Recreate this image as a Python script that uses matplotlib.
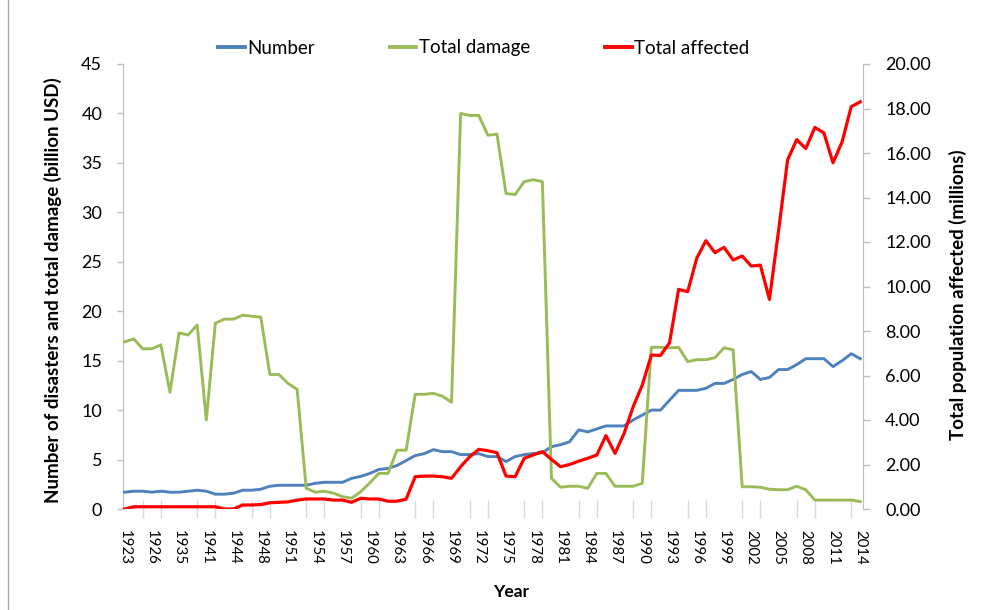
import matplotlib
matplotlib.use("Agg")
import matplotlib.pyplot as plt
from matplotlib.lines import Line2D

plt.rcParams['font.family'] = ['Lato', 'DejaVu Sans']

# categories (years with records)
years = [1923, 1924, 1925, 1926, 1931, 1933, 1935, 1937, 1939, 1941, 1942, 1943,
         1944, 1945, 1946, 1948, 1949, 1950, 1951, 1952, 1953, 1954, 1955, 1956,
         1957, 1958, 1959, 1960, 1961, 1962, 1963, 1964, 1965, 1966, 1967, 1968,
         1969, 1970, 1971, 1972, 1973, 1974, 1975, 1976, 1977, 1978, 1979, 1980,
         1981, 1982, 1983, 1984, 1985, 1986, 1987, 1988, 1989, 1990, 1991, 1992,
         1993, 1994, 1995, 1996, 1997, 1998, 1999, 2000, 2001, 2002, 2003, 2004,
         2005, 2006, 2007, 2008, 2009, 2010, 2011, 2012, 2013, 2014]

# number of disasters (left axis)
number = [1.7, 1.8, 1.8, 1.7, 1.8, 1.7, 1.7, 1.8, 1.9, 1.8, 1.5, 1.5,
          1.6, 1.9, 1.9, 2.0, 2.3, 2.4, 2.4, 2.4, 2.4, 2.6, 2.7, 2.7,
          2.7, 3.1, 3.3, 3.6, 4.0, 4.1, 4.4, 4.9, 5.4, 5.6, 6.0, 5.8,
          5.8, 5.5, 5.5, 5.6, 5.3, 5.3, 4.8, 5.3, 5.5, 5.6, 5.7, 6.3,
          6.5, 6.8, 8.0, 7.8, 8.1, 8.4, 8.4, 8.4, 9.0, 9.5, 10.0, 10.0,
          11.0, 12.0, 12.0, 12.0, 12.2, 12.7, 12.7, 13.1, 13.6, 13.9, 13.1, 13.3,
          14.1, 14.1, 14.6, 15.2, 15.2, 15.2, 14.4, 15.0, 15.7, 15.2]

# total damage, billion USD (left axis)
damage = [16.9, 17.2, 16.2, 16.2, 16.6, 11.8, 17.8, 17.6, 18.6, 9.0, 18.8, 19.2,
          19.2, 19.6, 19.5, 19.4, 13.6, 13.6, 12.7, 12.1, 2.1, 1.7, 1.8, 1.6,
          1.25, 1.1, 1.75, 2.65, 3.6, 3.6, 5.95, 5.95, 11.6, 11.6, 11.7, 11.4,
          10.8, 40.0, 39.8, 39.8, 37.8, 37.9, 31.9, 31.8, 33.1, 33.3, 33.1, 3.1,
          2.2, 2.3, 2.3, 2.1, 3.6, 3.6, 2.3, 2.3, 2.3, 2.6, 16.35, 16.35,
          16.3, 16.35, 14.9, 15.1, 15.1, 15.3, 16.3, 16.1, 2.25, 2.25, 2.2, 2.0,
          1.95, 1.95, 2.3, 1.95, 0.9, 0.9, 0.9, 0.9, 0.9, 0.75]

# total population affected, millions (right axis)
affected = [0.0, 0.1, 0.1, 0.1, 0.1, 0.1, 0.1, 0.1, 0.1, 0.1, 0.1, 0.0,
            0.0, 0.18, 0.18, 0.2, 0.28, 0.3, 0.32, 0.4, 0.45, 0.45, 0.45, 0.4,
            0.4, 0.3, 0.48, 0.45, 0.45, 0.35, 0.35, 0.44, 1.45, 1.48, 1.48, 1.45,
            1.38, 1.9, 2.35, 2.68, 2.62, 2.53, 1.48, 1.45, 2.28, 2.43, 2.58, 2.23,
            1.9, 2.0, 2.15, 2.28, 2.43, 3.3, 2.5, 3.4, 4.6, 5.57, 6.92, 6.9,
            7.47, 9.87, 9.77, 11.27, 12.06, 11.52, 11.76, 11.19, 11.37, 10.92, 10.96, 9.42,
            12.5, 15.69, 16.6, 16.2, 17.15, 16.9, 15.56, 16.5, 18.08, 18.3]

c_blue = '#4F81BD'
c_green = '#9BBB59'
c_red = '#FF0000'
grey = '#BFBFBF'

fig = plt.figure(figsize=(9.84, 6.1), dpi=100)
ax = fig.add_axes([123/984, 1 - 509/610, (863 - 123)/984, (509 - 64)/610])
ax2 = ax.twinx()

x = list(range(len(years)))
ax.plot(x, number, color=c_blue, lw=2.1, zorder=3)
ax.plot(x, damage, color=c_green, lw=2.1, zorder=3)
ax2.plot(x, affected, color=c_red, lw=2.3, zorder=3)

ax.set_xlim(-0.17, 81.3)
ax.set_ylim(0, 45)
ax2.set_ylim(0, 20)
ax.set_yticks(range(0, 46, 5))
ax2.set_yticks(range(0, 21, 2))
ax2.set_yticklabels(['%.2f' % v for v in range(0, 21, 2)])

ax.set_xticks(x[::3])
ax.set_xticklabels([str(y) for y in years[::3]], rotation=-90)
ax.set_xticks(x[::2], minor=True)
ax.tick_params(axis='x', which='major', length=0, pad=15, labelsize=10.8)
ax.tick_params(axis='x', which='minor', length=13, direction='inout', color='#D9D9D9', width=1)
ax.tick_params(axis='y', length=4, width=1, color=grey, pad=11, labelsize=13)
ax2.tick_params(axis='y', length=5, width=1, color=grey, pad=11, labelsize=13)

for a in (ax, ax2):
    for s in ('top', 'bottom'):
        a.spines[s].set_visible(False)
    a.spines['left'].set_color(grey)
    a.spines['right'].set_color(grey)
ax2.spines['left'].set_visible(False)
ax.spines['right'].set_visible(False)

fig.text(53/984, 1 - 290/610, 'Number of disasters and total damage (billion USD)',
         fontsize=13.5, fontweight='bold', rotation=90, ha='center', va='center')
fig.text(958/984, 1 - 295/610, 'Total population affected (millions)',
         fontsize=13.5, fontweight='bold', rotation=90, ha='center', va='center')
fig.text(511/984, 1 - 592/610, 'Year', fontsize=12.5, fontweight='bold',
         ha='center', va='center')

handles = [Line2D([], [], color=c_blue, lw=2.8),
           Line2D([], [], color=c_green, lw=2.8),
           Line2D([], [], color=c_red, lw=2.8)]
fig.legend(handles, ['Number', 'Total damage', 'Total affected'],
           loc='center', bbox_to_anchor=(484/984, 1 - 48/610), ncol=3,
           frameon=False, fontsize=13.5, handlelength=1.4, handletextpad=0.15,
           columnspacing=4.0)

# chart border on the left edge
fig.add_artist(Line2D([7.5/984, 7.5/984], [0, 1], color='#A6A6A6', lw=1))

fig.savefig('out.png', dpi=100)
